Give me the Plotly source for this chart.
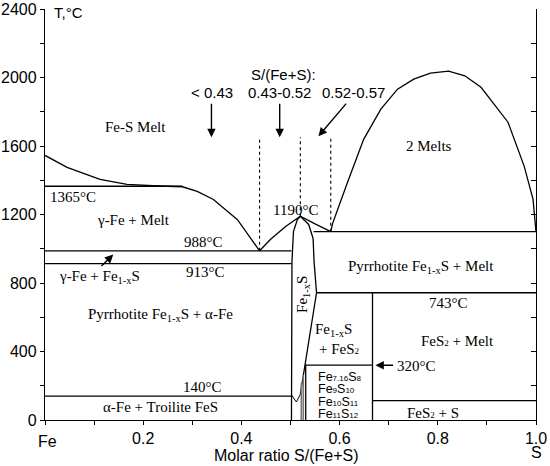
import plotly.graph_objects as go

# liquidus on the Fe side (x = S/(Fe+S), T in degC)
fe_liq_x = [0.0, 0.045, 0.112, 0.167, 0.22, 0.28, 0.31, 0.343, 0.392, 0.437]
fe_liq_t = [1545, 1475, 1405, 1376, 1368, 1362, 1335, 1288, 1170, 988]

# FeS liquidus around the congruent maximum
fes_liq_x = [0.437, 0.459, 0.49, 0.52, 0.55, 0.582]
fes_liq_t = [988, 1054, 1130, 1190, 1145, 1100]

# Fe1-xS solid-solution field
fes_field_x = [0.502, 0.503, 0.506, 0.514, 0.52, 0.537, 0.546, 0.548, 0.553, 0.527, 0.52]
fes_field_t = [0, 925, 1100, 1170, 1190, 1142, 1060, 925, 743, 293, 150]

# two-melt dome
dome_x = [0.582, 0.586, 0.616, 0.649, 0.684, 0.718, 0.751, 0.785, 0.822, 0.855, 0.888, 0.943, 0.976, 0.994, 1.0]
dome_t = [1100, 1150, 1387, 1639, 1815, 1932, 1990, 2025, 2037, 2010, 1943, 1739, 1481, 1288, 1100]

# isotherms
iso_t = [1365, 988, 913, 140, 1100, 743, 320, 113]
iso_x0 = [0.0, 0.0, 0.0, 0.0, 0.547, 0.553, 0.529, 0.667]
iso_x1 = [0.28, 0.502, 0.502, 0.502, 1.0, 1.0, 0.667, 1.0]

# vertical boundaries
vert_x = [0.667, 0.531]
vert_t0 = [0, 0]
vert_t1 = [743, 320]

# narrow low-T pyrrhotite phases
thin_x = [0.522, 0.526]
thin_t1 = [216, 263]

# troilite notch
notch_x = [0.502, 0.512, 0.52]
notch_t = [146, 105, 150]

# composition guides (dotted)
guide_x = [0.437, 0.52, 0.582]
guide_t0 = [988, 1190, 1100]
guide_top = 1651

x_ticks = [0.2, 0.4, 0.6, 0.8, 1.0]
y_ticks = [0, 400, 800, 1200, 1600, 2000, 2400]

SERIF = "Liberation Serif"
SANS = "Liberation Sans"

fig = go.Figure()


def add_line(xs, ys, width=1.3, dash="solid", color="black"):
    fig.add_trace(go.Scatter(x=xs, y=ys, mode="lines", hoverinfo="skip",
                             line=dict(color=color, width=width, dash=dash),
                             showlegend=False))


add_line(fe_liq_x, fe_liq_t)
add_line(fes_liq_x, fes_liq_t)
add_line(fes_field_x, fes_field_t)
add_line(dome_x, dome_t)
add_line(notch_x, notch_t, width=1)
for t, a, b in zip(iso_t, iso_x0, iso_x1):
    add_line([a, b], [t, t])
for x, a, b in zip(vert_x, vert_t0, vert_t1):
    add_line([x, x], [a, b])
for x, b in zip(thin_x, thin_t1):
    add_line([x, x], [0, b], width=1.6, color="#777777")
for x, b in zip(guide_x, guide_t0):
    add_line([x, x], [b, guide_top], width=1.1, dash="dot")

# invisible trace for the right axis
fig.add_trace(go.Scatter(x=[0], y=[0], yaxis="y2", mode="markers",
                         marker=dict(opacity=0), showlegend=False, hoverinfo="skip"))

ann = []


def label(x, y, text, size=15, family=SERIF, angle=0, xanchor="center", yref="y"):
    ann.append(dict(x=x, y=y, text=text, showarrow=False, textangle=angle,
                    xref="x", yref=yref, xanchor=xanchor, yanchor="middle",
                    font=dict(family=family, size=size, color="black")))


def arrow(x, y, ax, ay):
    ann.append(dict(x=x, y=y, ax=ax, ay=ay, xref="x", yref="y", axref="x", ayref="y",
                    text="", showarrow=True, arrowhead=2, arrowsize=1.2,
                    arrowwidth=1.4, arrowcolor="black"))


def small(s, px=9):
    return f'<span style="font-size:{px}px">{s}</span>'


label(0.014, 2377, "T,°C", family=SANS, xanchor="left")
label(0.184, 1709, "Fe-S Melt")
label(0.782, 1598, "2 Melts")
label(0.486, 2020, "S/(Fe+S):", family=SANS)
label(0.341, 1914, "< 0.43", family=SANS)
label(0.478, 1914, "0.43-0.52", family=SANS)
label(0.629, 1914, "0.52-0.57", family=SANS)
arrow(0.339, 1651, 0.339, 1856)
arrow(0.478, 1651, 0.478, 1856)
arrow(0.557, 1657, 0.616, 1856)

label(0.056, 1305, "1365°C")
label(0.18, 1165, "γ-Fe + Melt")
label(0.322, 1040, "988°C")
label(0.51, 1229, "1190°C")
label(0.112, 837, "γ-Fe + Fe<sub>1-x</sub>S")
arrow(0.139, 966, 0.112, 890)
label(0.327, 866, "913°C")
label(0.235, 615, "Pyrrhotite Fe<sub>1-x</sub>S + α-Fe")
label(0.32, 193, "140°C")
label(0.235, 76, "α-Fe + Troilite FeS")
label(0.524, 732, "Fe<sub>1-x</sub>S", angle=-90)
label(0.765, 896, "Pyrrhotite Fe<sub>1-x</sub>S + Melt")
label(0.822, 685, "743°C")
label(0.588, 527, "Fe<sub>1-x</sub>S")
label(0.598, 416, "+ FeS" + small("2"))
label(0.841, 462, "FeS" + small("2") + " + Melt")
label(0.757, 316, "320°C")
arrow(0.673, 320, 0.712, 320)
label(0.551, 252, "Fe" + small("7.16", 8) + "S" + small("8", 8), size=12.5, family=SANS, xanchor="left")
label(0.551, 180, "Fe" + small("9", 8) + "S" + small("10", 8), size=12.5, family=SANS, xanchor="left")
label(0.551, 106, "Fe" + small("10", 8) + "S" + small("11", 8), size=12.5, family=SANS, xanchor="left")
label(0.551, 35, "Fe" + small("11", 8) + "S" + small("12", 8), size=12.5, family=SANS, xanchor="left")
label(0.79, 41, "FeS" + small("2") + " + S")

label(0.006, -0.052, "Fe", size=16, family=SANS, yref="paper")
label(1.0, -0.08, "S", size=16, family=SANS, yref="paper")
ann.append(dict(x=0.49, y=-0.087, xref="paper", yref="paper", showarrow=False,
                text="Molar ratio S/(Fe+S)", yanchor="middle",
                font=dict(family=SANS, size=16, color="black")))

fig.update_layout(
    width=550, height=466,
    margin=dict(l=45, r=14, t=9, b=46),
    paper_bgcolor="white", plot_bgcolor="white",
    annotations=ann,
    font=dict(family=SANS, size=16, color="black"),
    xaxis=dict(range=[0, 1], showgrid=False, zeroline=False, automargin=False,
               showline=True, linecolor="black", linewidth=1.3,
               ticks="outside", ticklen=4, tickcolor="black",
               tickvals=[i / 10 for i in range(11)],
               ticktext=["" if i % 2 or i == 0 else f"{i / 10:.1f}" for i in range(11)],
               tickfont=dict(family=SANS, size=16)),
    yaxis=dict(range=[0, 2400], showgrid=False, zeroline=False, automargin=False,
               showline=True, linecolor="black", linewidth=1.3,
               ticks="outside", ticklen=4, tickcolor="black",
               tickvals=list(range(0, 2401, 200)),
               ticktext=[str(v) if v in y_ticks else "" for v in range(0, 2401, 200)],
               tickfont=dict(family=SANS, size=16)),
    yaxis2=dict(range=[0, 2400], overlaying="y", side="right", showgrid=False,
                zeroline=False, showline=True, linecolor="black", linewidth=1.3,
                automargin=False, ticks="inside", ticklen=5, tickcolor="black",
                tickvals=list(range(0, 2401, 200)), showticklabels=False),
)

# drop the browser's default page margin so the figure sits at the window corner
fig.write_html("out.html", config={"displayModeBar": False},
               post_script="document.body.style.margin='0';")
